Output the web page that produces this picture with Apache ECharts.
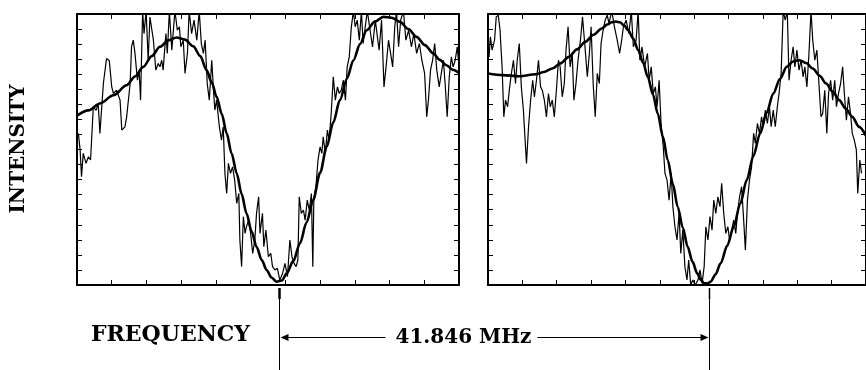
<!DOCTYPE html>
<html><head><meta charset="utf-8">
<script src="https://cdn.jsdelivr.net/npm/echarts@6/dist/echarts.min.js"></script>
<style>html,body{margin:0;padding:0;background:#fff}#c{width:866px;height:370px}</style>
</head><body><div id="c"></div>
<script>
// ---- data (arbitrary units: x in frequency ticks, y in intensity ticks) ----
const leftTrace = [[0.04,10.07],[0.09,8.96],[0.13,7.19],[0.18,8.74],[0.26,8.08],[0.33,8.52],[0.39,8.3],[0.47,11.84],[0.55,11.6],[0.61,12.06],[0.66,10.07],[0.76,13.4],[0.85,15.04],[0.93,14.9],[1.0,13.16],[1.05,12.72],[1.14,12.94],[1.24,12.28],[1.29,10.29],[1.38,10.5],[1.43,11.17],[1.53,13.38],[1.57,15.82],[1.62,16.26],[1.67,15.38],[1.74,13.6],[1.79,14.27],[1.83,12.28],[1.89,18.2],[1.93,16.7],[1.99,18.2],[2.05,14.93],[2.1,17.8],[2.2,16.26],[2.27,14.27],[2.34,14.71],[2.39,14.49],[2.44,14.93],[2.48,14.27],[2.56,16.7],[2.6,15.38],[2.66,18.2],[2.73,15.6],[2.82,18.2],[2.89,16.92],[2.95,17.15],[2.99,15.82],[3.06,16.26],[3.11,14.05],[3.18,15.38],[3.23,18.2],[3.3,16.7],[3.37,17.59],[3.45,16.26],[3.52,18.2],[3.58,16.04],[3.64,15.38],[3.69,16.26],[3.75,13.38],[3.81,12.28],[3.88,14.93],[3.93,12.94],[3.97,11.62],[4.02,12.28],[4.1,10.51],[4.16,9.62],[4.21,10.51],[4.26,7.41],[4.31,6.08],[4.36,8.08],[4.42,7.41],[4.48,7.85],[4.54,6.97],[4.6,5.42],[4.66,6.08],[4.69,2.99],[4.74,1.22],[4.79,4.54],[4.84,3.43],[4.88,3.87],[4.94,4.31],[5.0,3.43],[5.06,2.1],[5.12,2.99],[5.17,4.76],[5.23,5.86],[5.27,3.43],[5.34,4.76],[5.38,2.54],[5.44,3.65],[5.51,1.88],[5.58,2.1],[5.63,1.22],[5.7,1.0],[5.77,1.11],[5.84,0.33],[5.92,0.77],[5.99,1.44],[6.06,0.55],[6.13,2.99],[6.19,1.88],[6.25,1.44],[6.31,1.22],[6.36,1.66],[6.4,5.86],[6.46,4.76],[6.52,4.98],[6.57,4.31],[6.63,5.64],[6.69,4.98],[6.75,6.08],[6.79,1.22],[6.82,5.64],[6.88,6.53],[6.94,8.3],[7.0,9.18],[7.05,8.74],[7.09,9.85],[7.15,8.74],[7.21,10.29],[7.26,9.62],[7.32,11.39],[7.38,13.83],[7.44,12.28],[7.5,13.16],[7.55,12.72],[7.61,12.94],[7.67,13.6],[7.73,12.28],[7.78,14.49],[7.84,15.15],[7.9,17.15],[7.96,18.2],[8.01,17.15],[8.07,17.59],[8.13,16.26],[8.19,18.2],[8.24,16.04],[8.3,17.15],[8.36,18.2],[8.44,16.92],[8.51,15.82],[8.59,17.59],[8.65,16.48],[8.7,15.6],[8.77,17.59],[8.84,13.16],[8.9,14.49],[8.97,16.26],[9.03,15.38],[9.09,14.49],[9.15,17.15],[9.2,18.2],[9.26,15.82],[9.32,17.59],[9.4,18.2],[9.47,16.26],[9.55,16.92],[9.63,15.82],[9.7,16.7],[9.78,15.38],[9.86,16.04],[9.93,14.93],[10.01,14.05],[10.07,11.17],[10.12,12.28],[10.18,14.27],[10.24,14.93],[10.3,16.04],[10.36,14.27],[10.43,13.16],[10.49,14.05],[10.55,14.93],[10.6,13.38],[10.66,11.17],[10.72,13.83],[10.78,15.15],[10.83,14.49],[10.89,14.93],[10.95,15.82],[11.0,14.49]];
const leftFit = [[0.0,11.25],[0.33,11.6],[0.66,12.06],[1.05,12.6],[1.43,13.27],[1.67,13.85],[1.91,14.49],[2.15,15.2],[2.39,15.82],[2.63,16.25],[2.87,16.44],[3.11,16.3],[3.35,15.85],[3.55,15.2],[3.73,14.27],[3.88,13.45],[4.02,12.5],[4.17,11.35],[4.31,10.07],[4.45,8.75],[4.6,7.41],[4.74,6.05],[4.88,4.76],[5.03,3.55],[5.17,2.54],[5.32,1.65],[5.46,1.0],[5.6,0.5],[5.75,0.22],[5.9,0.3],[6.04,0.77],[6.23,1.6],[6.42,2.77],[6.61,4.15],[6.8,5.64],[7.0,7.45],[7.19,9.18],[7.38,10.8],[7.57,12.28],[7.77,13.7],[7.96,14.93],[8.15,16.0],[8.34,16.92],[8.58,17.5],[8.82,17.81],[9.06,17.75],[9.3,17.48],[9.54,17.0],[9.78,16.48],[10.02,15.93],[10.26,15.38],[10.45,14.95],[10.64,14.6],[10.82,14.3],[11.0,14.09]];
const rightTrace = [[0.03,15.15],[0.07,16.48],[0.12,15.6],[0.19,16.26],[0.24,17.81],[0.3,17.92],[0.35,16.92],[0.41,14.49],[0.46,11.17],[0.51,12.28],[0.57,11.84],[0.62,12.94],[0.68,14.05],[0.74,14.93],[0.8,13.38],[0.85,14.93],[0.91,16.04],[0.97,13.16],[1.03,11.62],[1.08,9.62],[1.12,8.08],[1.18,10.51],[1.24,12.28],[1.3,13.6],[1.35,12.5],[1.41,13.6],[1.47,14.93],[1.53,13.16],[1.58,12.94],[1.64,12.28],[1.7,11.17],[1.76,12.72],[1.81,11.84],[1.87,12.28],[1.93,11.17],[1.99,12.94],[2.05,14.93],[2.1,14.49],[2.16,12.5],[2.22,13.38],[2.27,15.6],[2.33,17.15],[2.39,14.49],[2.45,15.38],[2.5,12.28],[2.56,13.38],[2.62,14.93],[2.7,16.48],[2.75,17.81],[2.83,15.6],[2.89,13.83],[2.95,15.38],[3.0,17.15],[3.06,13.38],[3.12,11.17],[3.18,14.05],[3.24,13.38],[3.29,16.04],[3.35,16.92],[3.41,17.59],[3.47,17.92],[3.52,17.37],[3.6,18.2],[3.68,17.15],[3.76,16.26],[3.83,15.38],[3.89,16.26],[3.94,17.15],[4.02,17.59],[4.1,16.7],[4.17,18.2],[4.23,15.82],[4.31,16.26],[4.37,18.2],[4.42,14.93],[4.48,15.82],[4.56,14.49],[4.64,15.38],[4.69,13.6],[4.75,14.49],[4.81,12.72],[4.87,13.16],[4.92,11.84],[4.98,13.6],[5.04,10.51],[5.1,9.18],[5.15,7.41],[5.21,6.97],[5.27,5.64],[5.33,7.41],[5.38,5.2],[5.44,3.87],[5.5,2.99],[5.56,4.76],[5.61,2.1],[5.67,3.65],[5.73,1.22],[5.79,0.33],[5.84,1.66],[5.9,0.0],[5.96,0.33],[6.03,0.0],[6.11,0.33],[6.17,1.0],[6.23,0.11],[6.29,1.22],[6.34,3.87],[6.4,2.99],[6.46,4.54],[6.52,3.65],[6.57,5.64],[6.63,4.76],[6.69,5.86],[6.75,5.2],[6.8,6.75],[6.86,4.76],[6.92,3.43],[6.98,3.87],[7.03,2.99],[7.09,3.65],[7.15,4.31],[7.21,3.43],[7.26,4.76],[7.32,5.86],[7.38,6.53],[7.44,4.31],[7.49,2.32],[7.55,5.64],[7.61,6.97],[7.67,7.85],[7.73,10.07],[7.78,9.4],[7.84,10.73],[7.9,10.07],[7.96,11.17],[8.01,10.51],[8.07,11.62],[8.13,10.73],[8.19,11.84],[8.24,10.51],[8.3,11.62],[8.36,10.51],[8.42,11.84],[8.47,12.72],[8.53,14.05],[8.59,18.2],[8.65,17.59],[8.71,18.2],[8.76,13.6],[8.82,14.93],[8.88,15.82],[8.93,14.49],[8.99,15.6],[9.05,14.27],[9.11,14.93],[9.17,13.83],[9.22,14.49],[9.28,13.16],[9.34,15.38],[9.4,18.2],[9.45,16.26],[9.51,14.93],[9.57,15.6],[9.63,13.38],[9.69,11.17],[9.74,11.39],[9.8,12.94],[9.86,10.07],[9.91,12.72],[9.97,13.6],[10.03,12.28],[10.09,13.6],[10.14,11.84],[10.2,12.72],[10.26,13.38],[10.32,14.49],[10.37,12.72],[10.43,10.95],[10.49,12.5],[10.55,11.39],[10.6,10.07],[10.66,9.62],[10.72,8.96],[10.76,6.08],[10.82,8.3],[10.87,7.41]];
const rightFit = [[0.0,14.05],[0.43,13.94],[0.91,13.87],[1.39,14.0],[1.63,14.15],[1.87,14.38],[2.11,14.72],[2.35,15.15],[2.59,15.65],[2.83,16.15],[3.07,16.62],[3.31,17.04],[3.47,17.3],[3.6,17.45],[3.72,17.5],[3.84,17.45],[3.96,17.25],[4.08,16.92],[4.23,16.35],[4.37,15.6],[4.51,14.78],[4.65,13.83],[4.8,12.65],[4.94,11.39],[5.09,9.85],[5.23,8.3],[5.38,6.7],[5.52,5.2],[5.67,3.8],[5.81,2.54],[5.95,1.55],[6.09,0.77],[6.19,0.35],[6.29,0.11],[6.39,0.1],[6.48,0.22],[6.62,0.7],[6.77,1.44],[6.96,2.6],[7.15,3.87],[7.34,5.4],[7.53,6.97],[7.72,8.55],[7.92,10.07],[8.11,11.45],[8.3,12.72],[8.5,13.7],[8.69,14.49],[8.88,14.85],[9.07,14.93],[9.26,14.75],[9.45,14.38],[9.65,13.9],[9.84,13.38],[10.03,12.85],[10.22,12.28],[10.41,11.72],[10.6,11.17],[10.8,10.5],[11.0,9.9]];
const markerX = [5.82, 6.42];          // line centres marked below each panel
const xRange = [0, 11], yRange = [0, 18];
const yLabel = 'INTENSITY', xLabel = 'FREQUENCY', spacingLabel = '41.846 MHz';

const FONT = '"DejaVu Serif", serif';
const chart = echarts.init(document.getElementById('c'), null, {renderer: 'canvas'});

function xAx(g, pos) {
  return {gridIndex: g, type: 'value', position: pos, min: xRange[0], max: xRange[1], interval: 1,
    axisLine: {show: true, onZero: false, lineStyle: {color: '#000', width: 2}},
    axisTick: {show: true, inside: true, length: 5, lineStyle: {color: '#000', width: 1}},
    axisLabel: {show: false}, splitLine: {show: false}};
}
function yAx(g, pos) {
  return {gridIndex: g, type: 'value', position: pos, min: yRange[0], max: yRange[1], interval: 1,
    axisLine: {show: true, onZero: false, lineStyle: {color: '#000', width: 2}},
    axisTick: {show: true, inside: true, length: 5, lineStyle: {color: '#000', width: 1}},
    axisLabel: {show: false}, splitLine: {show: false}};
}
function line(data, xi, yi, w, smooth) {
  return {type: 'line', data: data, xAxisIndex: xi, yAxisIndex: yi, showSymbol: false, symbol: 'none',
    smooth: smooth, smoothMonotone: smooth ? 'x' : undefined, clip: true, animation: false,
    lineStyle: {color: '#000', width: w}};
}

chart.setOption({
  animation: false,
  backgroundColor: '#fff',
  grid: [
    {left: 77, top: 14, width: 382, height: 271},
    {left: 488, top: 14, width: 382, height: 271}
  ],
  xAxis: [xAx(0, 'bottom'), xAx(0, 'top'), xAx(1, 'bottom'), xAx(1, 'top')],
  yAxis: [yAx(0, 'left'), yAx(0, 'right'), yAx(1, 'left'), yAx(1, 'right')],
  series: [
    line(leftTrace, 0, 0, 1.2, false),
    line(leftFit, 0, 0, 2.6, 0.3),
    line(rightTrace, 2, 2, 1.2, false),
    line(rightFit, 2, 2, 2.6, 0.3)
  ]
});

// annotations positioned from data coordinates
const pL = chart.convertToPixel({xAxisIndex: 0, yAxisIndex: 0}, [markerX[0], yRange[0]]);
const pR = chart.convertToPixel({xAxisIndex: 2, yAxisIndex: 2}, [markerX[1], yRange[0]]);
const xL = Math.round(pL[0]) + 0.5, xR = Math.round(pR[0]) + 0.5, yB = pL[1];
const ctx = document.createElement('canvas').getContext('2d');
ctx.font = 'bold 20px ' + FONT;
const tw = ctx.measureText(spacingLabel).width;
const arrowY = 337.5;
const tStart = xL + 116, tEnd = tStart + tw;
const txtStyle = {fill: '#000', font: 'bold 20px ' + FONT};
const bigStyle = {fill: '#000', font: 'bold 22px ' + FONT};

chart.setOption({
  graphic: [
    {type: 'line', shape: {x1: xL, y1: yB + 3, x2: xL, y2: yB + 14}, style: {stroke: '#000', lineWidth: 2.5}},
    {type: 'line', shape: {x1: xR, y1: yB + 3, x2: xR, y2: yB + 14}, style: {stroke: '#000', lineWidth: 1.5}},
    {type: 'line', shape: {x1: xL, y1: yB + 5, x2: xL, y2: 370}, style: {stroke: '#000', lineWidth: 1}},
    {type: 'line', shape: {x1: xR, y1: yB + 8, x2: xR, y2: 370}, style: {stroke: '#000', lineWidth: 1}},
    {type: 'line', shape: {x1: xL + 4, y1: arrowY, x2: tStart - 10, y2: arrowY}, style: {stroke: '#000', lineWidth: 1.2}},
    {type: 'polygon', shape: {points: [[xL + 1, arrowY], [xL + 9, arrowY - 3.5], [xL + 9, arrowY + 3.5]]}, style: {fill: '#000'}},
    {type: 'line', shape: {x1: tEnd + 6, y1: arrowY, x2: xR - 4, y2: arrowY}, style: {stroke: '#000', lineWidth: 1.2}},
    {type: 'polygon', shape: {points: [[xR - 1, arrowY], [xR - 9, arrowY - 3.5], [xR - 9, arrowY + 3.5]]}, style: {fill: '#000'}},
    {type: 'text', x: tStart, y: arrowY, style: Object.assign({text: spacingLabel, align: 'left', verticalAlign: 'middle'}, txtStyle)},
    {type: 'text', x: 250, y: 335, style: Object.assign({text: xLabel, align: 'right', verticalAlign: 'middle'}, bigStyle)},
    {type: 'text', x: 19, y: 149, rotation: Math.PI / 2, style: Object.assign({text: yLabel, align: 'center', verticalAlign: 'middle'}, txtStyle)}
  ]
});
</script></body></html>
